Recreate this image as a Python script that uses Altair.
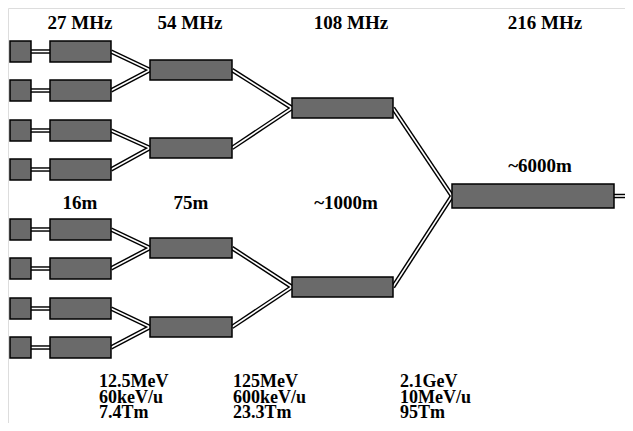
import altair as alt
import pandas as pd

# ---- diagram geometry (image pixel coordinates) ----
src_x = [10, 31]
b27_x = [50, 111]
b54_x = [150, 232]
b108_x = [292, 393]
b216_x = [452, 614]
exit_x = 625

row27_top = [41, 80, 120, 159, 219, 258, 298, 337]
row27_h = 21
row54_top = [60, 138, 238, 317]
row54_h = 20
row108_top = [98, 277]
row108_h = 20
row216_top = [184]
row216_h = 24

# ---- labels ----
head_text = ["27 MHz", "54 MHz", "108 MHz", "216 MHz", "16m", "75m", "~1000m", "~6000m"]
head_x = [80, 190, 351, 545, 80, 191, 346, 540]
head_y = [29, 29, 29, 29, 209, 209, 209, 172]

foot_text = [["12.5MeV", "60keV/u", "7.4Tm"],
             ["125MeV", "600keV/u", "23.3Tm"],
             ["2.1GeV", "10MeV/u", "95Tm"]]
foot_x = [99, 233, 400]
foot_y = [387, 387, 387]

FONT = "Liberation Serif"

# ---- build tables ----
boxes = []
for t in row27_top:
    boxes.append(dict(x=src_x[0], x2=src_x[1], y=t, y2=t + row27_h))
    boxes.append(dict(x=b27_x[0], x2=b27_x[1], y=t, y2=t + row27_h))
for t in row54_top:
    boxes.append(dict(x=b54_x[0], x2=b54_x[1], y=t, y2=t + row54_h))
for t in row108_top:
    boxes.append(dict(x=b108_x[0], x2=b108_x[1], y=t, y2=t + row108_h))
for t in row216_top:
    boxes.append(dict(x=b216_x[0], x2=b216_x[1], y=t, y2=t + row216_h))
boxes = pd.DataFrame(boxes)

mid27 = [t + row27_h / 2 for t in row27_top]
mid54 = [t + row54_h / 2 for t in row54_top]
mid108 = [t + row108_h / 2 for t in row108_top]
mid216 = [t + row216_h / 2 for t in row216_top]

segs = []
for m in mid27:
    segs.append(dict(x=src_x[1], y=m, x2=b27_x[0], y2=m))
for i, m in enumerate(mid27):
    segs.append(dict(x=b27_x[1], y=m, x2=b54_x[0], y2=mid54[i // 2]))
for i, m in enumerate(mid54):
    segs.append(dict(x=b54_x[1], y=m, x2=b108_x[0], y2=mid108[i // 2]))
for i, m in enumerate(mid108):
    segs.append(dict(x=b108_x[1], y=m, x2=b216_x[0], y2=mid216[0]))
segs.append(dict(x=b216_x[1], y=mid216[0], x2=exit_x, y2=mid216[0]))
segs = pd.DataFrame(segs)

labels = pd.DataFrame(dict(text=head_text, x=head_x, y=head_y))
foot = pd.DataFrame(dict(text=["\n".join(t) for t in foot_text], x=foot_x, y=foot_y))

xs = alt.Scale(domain=[8, 625])
ys = alt.Scale(domain=[8, 423], reverse=True)
X = lambda f: alt.X(f, type="quantitative", scale=xs, axis=None)
Y = lambda f: alt.Y(f, type="quantitative", scale=ys, axis=None)

outer = alt.Chart(segs).mark_rule(color="black", strokeWidth=4.5, clip=False).encode(
    x=X("x"), y=Y("y"), x2="x2", y2="y2")
inner = alt.Chart(segs).mark_rule(color="white", strokeWidth=1.6, clip=False).encode(
    x=X("x"), y=Y("y"), x2="x2", y2="y2")
rects = alt.Chart(boxes).mark_rect(fill="#6a6a6a", stroke="black", strokeWidth=1.5).encode(
    x=X("x"), x2="x2", y=Y("y"), y2="y2")
heads = alt.Chart(labels).mark_text(font=FONT, fontWeight="bold", fontSize=19,
                                    align="center", baseline="alphabetic", color="black").encode(
    x=X("x"), y=Y("y"), text="text")
foots = alt.Chart(foot).mark_text(font=FONT, fontWeight="bold", fontSize=18,
                                  align="left", baseline="alphabetic", color="black",
                                  lineBreak="\n", lineHeight=15.5).encode(
    x=X("x"), y=Y("y"), text="text")

chart = alt.layer(outer, inner, rects, heads, foots).properties(
    width=617, height=415, padding=0, autosize="none"
).configure_view(stroke=None).configure(background="white")

chart.save("out.html", embed_options={"renderer": "svg", "actions": False})
